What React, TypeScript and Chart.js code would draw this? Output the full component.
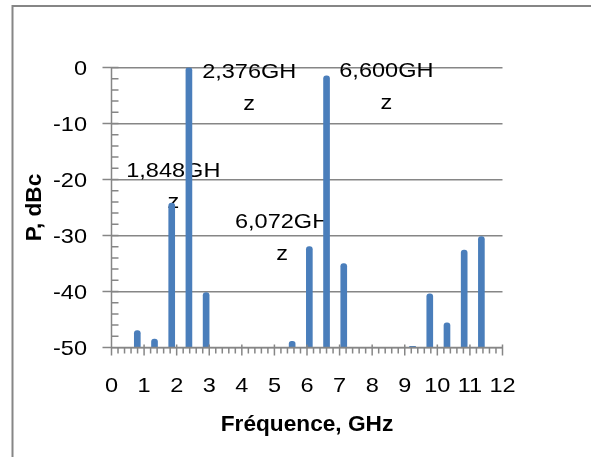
import React, { useEffect, useRef } from 'react';
import { Chart, registerables } from 'chart.js';

Chart.register(...registerables);

// ---- data ----
const frequencies = [0.792, 1.32, 1.848, 2.376, 2.904, 5.544, 6.072, 6.6, 7.128, 9.24, 9.768, 10.296, 10.824, 11.352];
const powers = [-47.0, -48.5, -24.2, 0, -40.2, -48.9, -32.0, -1.5, -35.0, -49.8, -40.4, -45.6, -32.6, -30.2];
const xTickValues = [0, 1, 2, 3, 4, 5, 6, 7, 8, 9, 10, 11, 12];
const yTickValues = [0, -10, -20, -30, -40, -50];
const labelFreqs = [1.848, 2.376, 6.072, 6.6];
const labelLines = [
  ['1,848GH', 'z'],
  ['2,376GH', 'z'],
  ['6,072GH', 'z'],
  ['6,600GH', 'z'],
];
const xTitle = 'Fréquence, GHz';
const yTitle = 'P, dBc';

// ---- styling / placement (pixels) ----
const labelOffsets = [
  { dx: 1.6, dy: -26.3 },
  { dx: 60.3, dy: 10.8 },
  { dx: -27.3, dy: -18.4 },
  { dx: 59.8, dy: 1.4 },
];
const LINE_GAP = 31.6;
const FONT = '"Liberation Sans", Arial, sans-serif';
const SX = 1.12;
const GRAY = '#868686';
const BAR = '#4a7ebb';

function stretchedText(ctx: CanvasRenderingContext2D, text: string, x: number, y: number, align: CanvasTextAlign, sx: number) {
  ctx.save();
  ctx.translate(x, y);
  ctx.scale(sx, 1);
  ctx.textAlign = align;
  ctx.fillText(text, 0, 0);
  ctx.restore();
}

const frame = {
  id: 'frame',
  beforeDraw(chart: any) {
    const ctx = chart.ctx;
    ctx.save();
    ctx.fillStyle = '#fff';
    ctx.fillRect(0, 0, chart.width, chart.height);
    ctx.strokeStyle = GRAY;
    ctx.lineWidth = 2;
    ctx.strokeRect(12.5, 6, 1000, 1000);
    ctx.restore();
  },
  beforeDatasetsDraw(chart: any) {
    const ctx = chart.ctx;
    const xs = chart.scales.x;
    const ys = chart.scales.y;
    ctx.save();
    ctx.fillStyle = '#000';
    ctx.font = `21px ${FONT}`;
    ctx.textBaseline = 'alphabetic';
    labelFreqs.forEach((f, i) => {
      const idx = frequencies.indexOf(f);
      const px = xs.getPixelForValue(f);
      const py = ys.getPixelForValue(powers[idx]);
      const o = labelOffsets[i];
      labelLines[i].forEach((t, k) => {
        stretchedText(ctx, t, px + o.dx, py + o.dy + k * LINE_GAP, 'center', SX);
      });
    });
    ctx.restore();
  },
  afterDatasetsDraw(chart: any) {
    const ctx = chart.ctx;
    const { left, right, top, bottom } = chart.chartArea;
    const xs = chart.scales.x;
    const ys = chart.scales.y;
    ctx.save();
    ctx.strokeStyle = GRAY;
    ctx.lineWidth = 1.5;
    ctx.beginPath();
    // axes
    ctx.moveTo(left, top);
    ctx.lineTo(left, bottom);
    ctx.moveTo(left, bottom);
    ctx.lineTo(right, bottom);
    // y ticks
    for (let v = 0; v >= -50; v -= 2) {
      const y = ys.getPixelForValue(v);
      if (v % 10 === 0) {
        ctx.moveTo(left - 9, y);
        ctx.lineTo(left + 7, y);
      } else {
        ctx.moveTo(left, y);
        ctx.lineTo(left + 7, y);
      }
    }
    // x ticks
    for (let k = 0; k <= 60; k++) {
      const x = xs.getPixelForValue(k / 5);
      if (k % 5 === 0) {
        ctx.moveTo(x, bottom - 3);
        ctx.lineTo(x, bottom + 8);
      } else {
        ctx.moveTo(x, bottom);
        ctx.lineTo(x, bottom + 6);
      }
    }
    ctx.stroke();

    // tick labels
    ctx.fillStyle = '#000';
    ctx.font = `21px ${FONT}`;
    ctx.textBaseline = 'alphabetic';
    yTickValues.forEach((v) => {
      stretchedText(ctx, String(v), 87, ys.getPixelForValue(v) + 7.8, 'right', SX);
    });
    xTickValues.forEach((v) => {
      stretchedText(ctx, String(v), xs.getPixelForValue(v), 391.5, 'center', SX);
    });

    // titles
    ctx.font = `bold 22px ${FONT}`;
    stretchedText(ctx, xTitle, (left + right) / 2, 431, 'center', 1.03);
    ctx.save();
    ctx.translate(35, (top + bottom) / 2);
    ctx.rotate(-Math.PI / 2);
    ctx.textBaseline = 'middle';
    stretchedText(ctx, yTitle, 0, 0, 'center', 1.03);
    ctx.restore();
    ctx.restore();
  },
};

export default function App() {
  const ref = useRef<HTMLCanvasElement | null>(null);
  useEffect(() => {
    if (!ref.current) return;
    const chart = new Chart(ref.current, {
      type: 'bar',
      data: {
        datasets: [
          {
            data: frequencies.map((f, i) => ({ x: f, y: powers[i] })),
            base: -50,
            backgroundColor: BAR,
            barThickness: 6,
            borderWidth: 0,
            borderSkipped: false,
            borderRadius: { topLeft: 3, topRight: 3, bottomLeft: 0, bottomRight: 0 },
          } as any,
        ],
      },
      options: {
        responsive: false,
        devicePixelRatio: 1,
        animation: false,
        layout: { padding: { top: 67.5, right: 88.5, bottom: 0, left: 0 } },
        plugins: { legend: { display: false }, tooltip: { enabled: false } },
        scales: {
          x: {
            type: 'linear',
            offset: false,
            min: 0,
            max: 12,
            grid: { display: false, drawTicks: false, offset: false },
            border: { display: false },
            ticks: { display: false, stepSize: 1 },
            afterFit: (s: any) => { s.height = 109.5; },
          },
          y: {
            type: 'linear',
            min: -50,
            max: 0,
            grid: { color: GRAY, lineWidth: 1.5, drawTicks: false },
            border: { display: false },
            ticks: { display: false, stepSize: 10 },
            afterFit: (s: any) => { s.width = 111.5; },
          },
        },
      } as any,
      plugins: [frame],
    });
    return () => chart.destroy();
  }, []);
  return (
    <div style={{ position: 'fixed', left: 0, top: 0, width: 591, height: 457, background: '#fff' }}>
      <canvas ref={ref} width={591} height={457} style={{ display: 'block', width: 591, height: 457 }} />
    </div>
  );
}
